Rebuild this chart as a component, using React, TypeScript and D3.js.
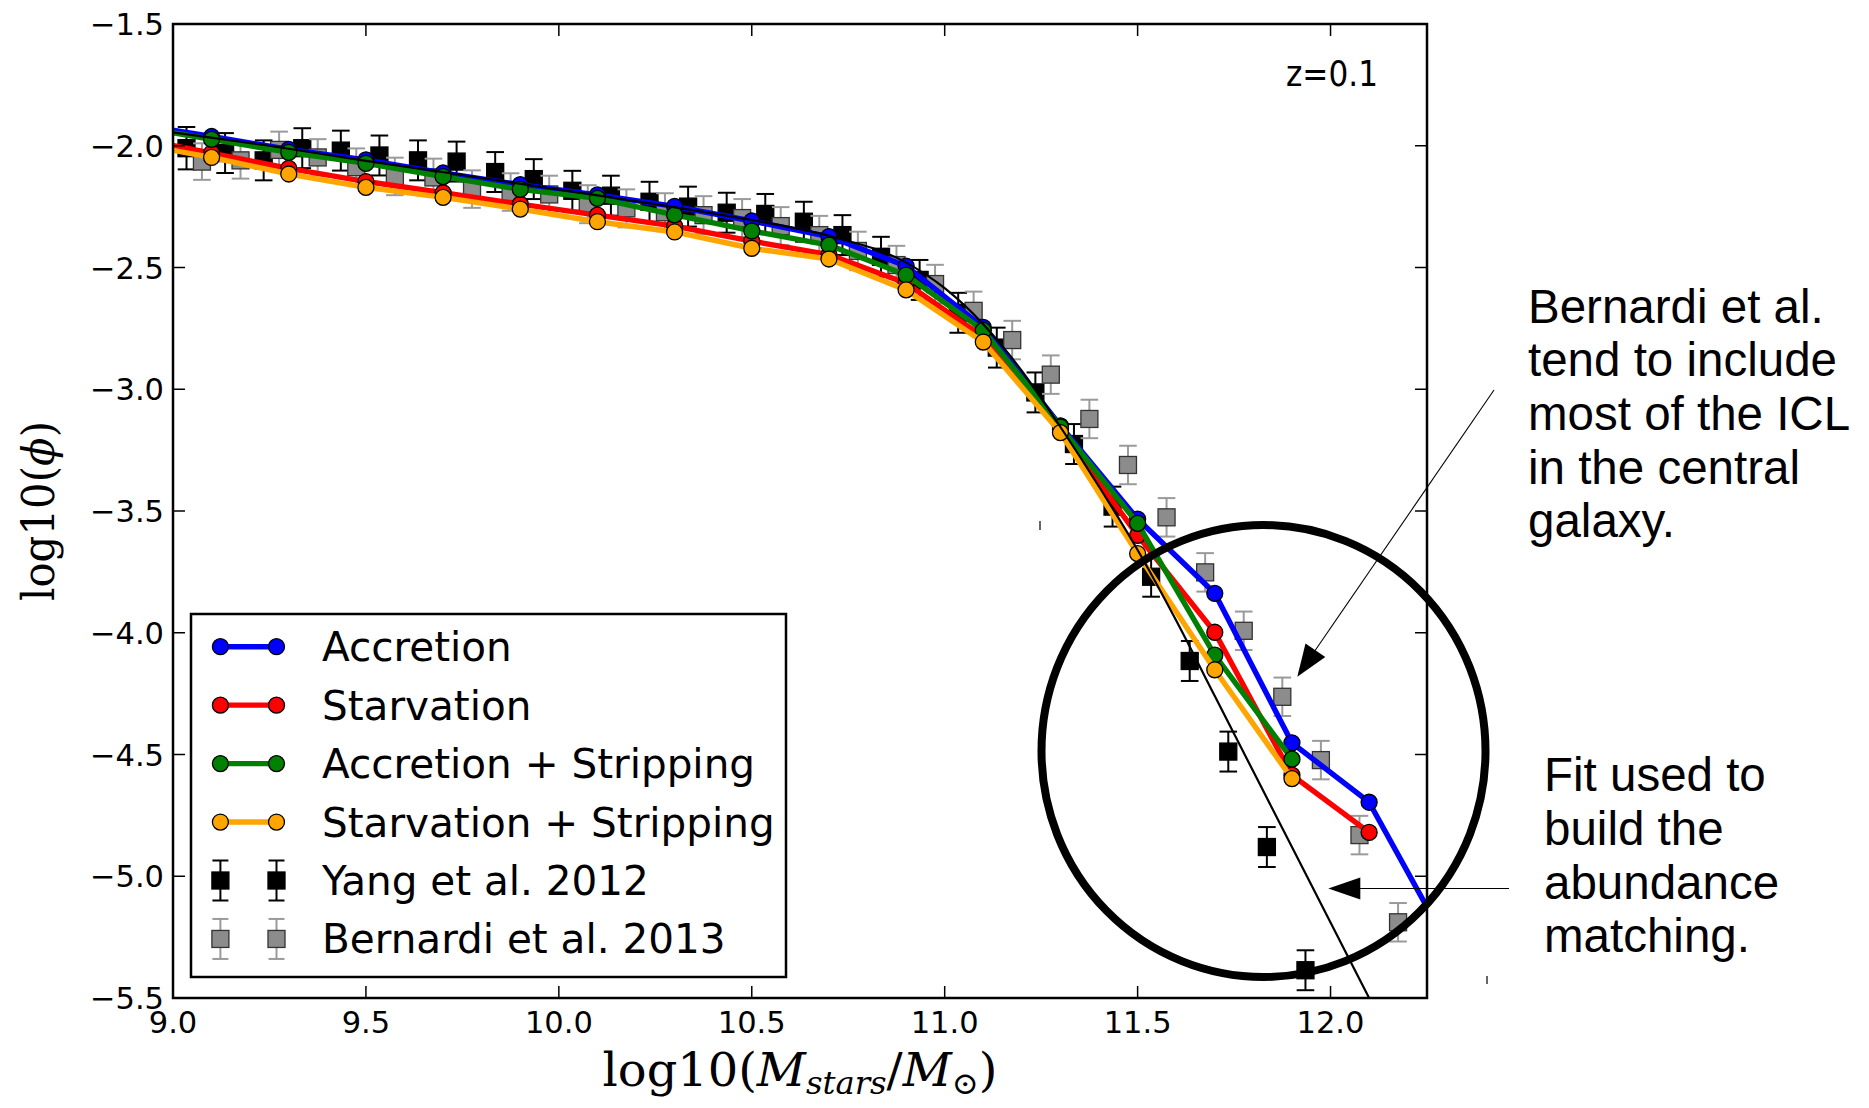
import React from "react";
import * as d3 from "d3";

// ---------- data ----------
const modelX = [8.9, 9.1, 9.3, 9.5, 9.7, 9.9, 10.1, 10.3, 10.5, 10.7, 10.9, 11.1, 11.3, 11.5, 11.7, 11.9, 12.1, 12.3];
const accretion = [-1.91, -1.962, -2.015, -2.058, -2.112, -2.16, -2.202, -2.249, -2.309, -2.373, -2.494, -2.746, -3.15, -3.533, -3.838, -4.452, -4.696, -5.27];
const starvation = [-1.967, -2.03, -2.093, -2.147, -2.193, -2.24, -2.285, -2.33, -2.392, -2.447, -2.565, -2.785, -3.165, -3.6, -3.998, -4.585, -4.82, null];
const accStrip = [-1.92, -1.974, -2.027, -2.072, -2.127, -2.179, -2.216, -2.284, -2.35, -2.408, -2.531, -2.758, -3.155, -3.551, -4.092, -4.519, null, null];
const starvStrip = [-1.99, -2.048, -2.116, -2.171, -2.212, -2.26, -2.312, -2.354, -2.421, -2.465, -2.592, -2.806, -3.178, -3.675, -4.152, -4.599, null, null];

const yangX = [9.035, 9.135, 9.235, 9.335, 9.435, 9.535, 9.635, 9.735, 9.835, 9.935, 10.035, 10.135, 10.235, 10.335, 10.435, 10.535, 10.635, 10.735, 10.835, 10.935, 11.035, 11.135, 11.235, 11.335, 11.435, 11.535, 11.635, 11.735, 11.835, 11.935];
const yangY = [-2.01, -2.03, -2.06, -2.01, -2.02, -2.04, -2.06, -2.065, -2.108, -2.137, -2.185, -2.205, -2.23, -2.25, -2.275, -2.28, -2.312, -2.367, -2.456, -2.551, -2.686, -2.829, -3.013, -3.225, -3.482, -3.77, -4.116, -4.488, -4.88, -5.386];
const yangErr = [0.087, 0.082, 0.082, 0.082, 0.082, 0.082, 0.082, 0.082, 0.082, 0.082, 0.082, 0.082, 0.082, 0.082, 0.082, 0.082, 0.082, 0.082, 0.082, 0.082, 0.082, 0.082, 0.082, 0.082, 0.082, 0.082, 0.082, 0.082, 0.082, 0.082];

const bernX = [9.075, 9.175, 9.275, 9.375, 9.475, 9.575, 9.675, 9.775, 9.875, 9.975, 10.075, 10.175, 10.275, 10.375, 10.475, 10.575, 10.675, 10.775, 10.875, 10.975, 11.075, 11.175, 11.275, 11.375, 11.475, 11.575, 11.675, 11.775, 11.875, 11.975, 12.075, 12.175];
const bernY = [-2.065, -2.06, -2.017, -2.048, -2.088, -2.126, -2.13, -2.178, -2.19, -2.2, -2.24, -2.257, -2.273, -2.285, -2.297, -2.33, -2.367, -2.432, -2.49, -2.568, -2.678, -2.798, -2.94, -3.122, -3.311, -3.526, -3.752, -3.992, -4.263, -4.523, -4.831, -5.189];
const bernErr = [0.075, 0.075, 0.075, 0.075, 0.077, 0.077, 0.077, 0.077, 0.077, 0.077, 0.078, 0.078, 0.078, 0.078, 0.078, 0.078, 0.079, 0.079, 0.079, 0.079, 0.079, 0.079, 0.079, 0.079, 0.079, 0.079, 0.079, 0.079, 0.079, 0.079, 0.079, 0.079];

const fitX = [9.0, 9.25, 9.5, 9.75, 10.0, 10.25, 10.5, 10.7, 10.9, 11.0, 11.1, 11.2, 11.3, 11.4, 11.5, 11.6, 11.7, 11.8, 11.9, 12.0, 12.1, 12.2];
const fitY = [-1.945, -2.0, -2.062, -2.12, -2.18, -2.24, -2.305, -2.37, -2.48, -2.585, -2.733, -2.925, -3.155, -3.4, -3.66, -3.95, -4.26, -4.57, -4.88, -5.19, -5.5, -5.81];

const xTicks = [9.0, 9.5, 10.0, 10.5, 11.0, 11.5, 12.0];
const yTicks = [-5.5, -5.0, -4.5, -4.0, -3.5, -3.0, -2.5, -2.0, -1.5];

const seriesNames = ["Accretion", "Starvation", "Accretion + Stripping", "Starvation + Stripping"];
const seriesColors = ["#0000ff", "#ff0000", "#008000", "#ffa500"];
const dataNames = ["Yang et al. 2012", "Bernardi et al. 2013"];

const noteICL = ["Bernardi et al.", "tend to include", "most of the ICL", "in the central", "galaxy."];
const noteFit = ["Fit used to", "build the", "abundance", "matching."];

// ---------- layout ----------
const W = 1869, H = 1108;
const X0 = 173, X1 = 1427, Y0 = 24, Y1 = 998;
const TICK_FONT = "'DejaVu Sans', sans-serif";
const SERIF = "'DejaVu Serif', serif";

export default function App() {
  const x = d3.scaleLinear().domain([9, 12.25]).range([X0, X1]);
  const y = d3.scaleLinear().domain([-5.5, -1.5]).range([Y1, Y0]);
  const fmt = (v: number) => d3.format(".1f")(v).replace("-", "\u2212");

  const modelSeries = [accretion, starvation, accStrip, starvStrip];
  const line = d3
    .line<[number, number | null]>()
    .defined((d) => d[1] !== null)
    .x((d) => x(d[0]))
    .y((d) => y(d[1] as number));
  const fitLine = d3
    .line<[number, number]>()
    .curve(d3.curveMonotoneX)
    .x((d) => x(d[0]))
    .y((d) => y(d[1]));

  const R = 8;
  const SQ = 17;
  const CAP = 8.8;
  const LW = 5.4;

  const errSquares = (
    xs: number[],
    ys: number[],
    es: number[],
    fill: string,
    edge: string,
    barColor: string,
    key: string
  ) =>
    xs.map((xv, i) => {
      const cx = x(xv);
      const cy = y(ys[i]);
      const top = y(ys[i] + es[i]);
      const bot = y(ys[i] - es[i]);
      return (
        <g key={key + i}>
          <line x1={cx} x2={cx} y1={top} y2={bot} stroke={barColor} strokeWidth={2} />
          <line x1={cx - CAP} x2={cx + CAP} y1={top} y2={top} stroke={barColor} strokeWidth={2} />
          <line x1={cx - CAP} x2={cx + CAP} y1={bot} y2={bot} stroke={barColor} strokeWidth={2} />
          <rect x={cx - SQ / 2} y={cy - SQ / 2} width={SQ} height={SQ} fill={fill} stroke={edge} strokeWidth={1.3} />
        </g>
      );
    });

  const LX0 = 191, LY0 = 614, LX1 = 786, LY1 = 977;
  const rowY = (i: number) => 646.7 + 58.45 * i;
  const mA = 220.4, mB = 276.5, textX = 322;

  const arrowHead = (tx: number, ty: number, fx: number, fy: number, len: number, hw: number) => {
    const dx = fx - tx, dy = fy - ty;
    const L = Math.hypot(dx, dy);
    const ux = dx / L, uy = dy / L;
    const bx = tx + ux * len, by = ty + uy * len;
    const px = -uy, py = ux;
    return `M${tx},${ty} L${bx + px * hw},${by + py * hw} L${bx - px * hw},${by - py * hw} Z`;
  };

  return (
    <svg
      width={W}
      height={H}
      viewBox={`0 0 ${W} ${H}`}
      style={{ position: "absolute", left: 0, top: 0, background: "#fff" }}
    >
      <defs>
        <clipPath id="plotClip">
          <rect x={X0} y={Y0} width={X1 - X0} height={Y1 - Y0} />
        </clipPath>
      </defs>
      <rect x={0} y={0} width={W} height={H} fill="#fff" />

      <g clipPath="url(#plotClip)">
        {errSquares(yangX, yangY, yangErr, "#000000", "#000000", "#000000", "y")}
        {errSquares(bernX, bernY, bernErr, "#8c8c8c", "#333333", "#9a9a9a", "b")}

        {modelSeries.map((vals, si) => {
          const pts = modelX.map((xv, i) => [xv, vals[i]] as [number, number | null]);
          return (
            <g key={"m" + si}>
              <path d={line(pts) || ""} fill="none" stroke={seriesColors[si]} strokeWidth={LW} strokeLinejoin="round" />
              {pts
                .filter((p) => p[1] !== null)
                .map((p, i) => (
                  <circle
                    key={i}
                    cx={x(p[0])}
                    cy={y(p[1] as number)}
                    r={R}
                    fill={seriesColors[si]}
                    stroke="#000"
                    strokeWidth={1.3}
                  />
                ))}
            </g>
          );
        })}

        <path
          d={fitLine(fitX.map((xv, i) => [xv, fitY[i]] as [number, number])) || ""}
          fill="none"
          stroke="#000"
          strokeWidth={2.2}
        />
      </g>

      {xTicks.map((t) => (
        <g key={"xt" + t}>
          <line x1={x(t)} x2={x(t)} y1={Y1} y2={Y1 - 12} stroke="#000" strokeWidth={1.5} />
          <line x1={x(t)} x2={x(t)} y1={Y0} y2={Y0 + 12} stroke="#000" strokeWidth={1.5} />
          <text x={x(t)} y={1033} textAnchor="middle" fontFamily={TICK_FONT} fontSize={30.5} fill="#000">
            {fmt(t)}
          </text>
        </g>
      ))}
      {yTicks.map((t) => (
        <g key={"yt" + t}>
          <line x1={X0} x2={X0 + 12} y1={y(t)} y2={y(t)} stroke="#000" strokeWidth={1.5} />
          <line x1={X1} x2={X1 - 12} y1={y(t)} y2={y(t)} stroke="#000" strokeWidth={1.5} />
          <text x={164} y={y(t) + 11} textAnchor="end" fontFamily={TICK_FONT} fontSize={30.5} fill="#000">
            {fmt(t)}
          </text>
        </g>
      ))}

      <rect x={X0} y={Y0} width={X1 - X0} height={Y1 - Y0} fill="none" stroke="#000" strokeWidth={2.5} />

      <text x={1378} y={86} textAnchor="end" fontFamily={TICK_FONT} fontSize={35} textLength={92} lengthAdjust="spacingAndGlyphs">
        z=0.1
      </text>

      <text
        x={(X0 + X1) / 2}
        y={1086}
        textAnchor="middle"
        fontFamily={SERIF}
        fontSize={46}
        textLength={395}
        lengthAdjust="spacingAndGlyphs"
      >
        log10(
        <tspan fontStyle="italic">M</tspan>
        <tspan fontStyle="italic" fontSize={31} dy={8}>stars</tspan>
        <tspan dy={-8}>/</tspan>
        <tspan fontStyle="italic">M</tspan>
        <tspan fontSize={31} dy={8}>⊙</tspan>
        <tspan dy={-8}>)</tspan>
      </text>
      <text
        transform={`translate(54,${(Y0 + Y1) / 2}) rotate(-90)`}
        textAnchor="middle"
        fontFamily={SERIF}
        fontSize={45}
        textLength={180}
        lengthAdjust="spacingAndGlyphs"
      >
        log10(<tspan fontStyle="italic">ϕ</tspan>)
      </text>

      <rect x={LX0} y={LY0} width={LX1 - LX0} height={LY1 - LY0} fill="#fff" stroke="#000" strokeWidth={2.5} />
      {seriesNames.map((name, i) => (
        <g key={"lg" + i}>
          <line x1={mA} x2={mB} y1={rowY(i)} y2={rowY(i)} stroke={seriesColors[i]} strokeWidth={LW} />
          <circle cx={mA} cy={rowY(i)} r={R} fill={seriesColors[i]} stroke="#000" strokeWidth={1.3} />
          <circle cx={mB} cy={rowY(i)} r={R} fill={seriesColors[i]} stroke="#000" strokeWidth={1.3} />
          <text x={textX} y={rowY(i) + 14.5} fontFamily={TICK_FONT} fontSize={40.5}>
            {name}
          </text>
        </g>
      ))}
      {dataNames.map((name, j) => {
        const i = j + 4;
        const cy = rowY(i);
        const fill = j === 0 ? "#000" : "#8c8c8c";
        const edge = j === 0 ? "#000" : "#333";
        const bar = j === 0 ? "#000" : "#9a9a9a";
        return (
          <g key={"ld" + j}>
            {[mA, mB].map((cx) => (
              <g key={cx}>
                <line x1={cx} x2={cx} y1={cy - 20} y2={cy + 20} stroke={bar} strokeWidth={2} />
                <line x1={cx - 8} x2={cx + 8} y1={cy - 20} y2={cy - 20} stroke={bar} strokeWidth={2} />
                <line x1={cx - 8} x2={cx + 8} y1={cy + 20} y2={cy + 20} stroke={bar} strokeWidth={2} />
                <rect x={cx - SQ / 2} y={cy - SQ / 2} width={SQ} height={SQ} fill={fill} stroke={edge} strokeWidth={1.3} />
              </g>
            ))}
            <text x={textX} y={cy + 14.5} fontFamily={TICK_FONT} fontSize={40.5}>
              {name}
            </text>
          </g>
        );
      })}

      <ellipse cx={1263.5} cy={751} rx={222} ry={226} fill="none" stroke="#000" strokeWidth={8} />

      <line x1={1494} y1={390} x2={1312} y2={655} stroke="#000" strokeWidth={1.1} />
      <path d={arrowHead(1297.3, 676.7, 1494, 390, 32, 12)} fill="#000" />
      <line x1={1509} y1={888.5} x2={1350} y2={888.5} stroke="#000" strokeWidth={1.1} />
      <path d={arrowHead(1328.3, 888.5, 1509, 888.5, 32, 11)} fill="#000" />

      <line x1={1040} x2={1040} y1={521} y2={530} stroke="#000" strokeWidth={1.2} />
      <line x1={1487} x2={1487} y1={976} y2={984} stroke="#000" strokeWidth={1.2} />

      {noteICL.map((t, i) => (
        <text key={"n1" + i} x={1528} y={322.7 + 53.6 * i} fontFamily="'Liberation Sans', Arial, sans-serif" fontSize={47.5}>
          {t}
        </text>
      ))}
      {noteFit.map((t, i) => (
        <text key={"n2" + i} x={1544} y={790.7 + 53.9 * i} fontFamily="'Liberation Sans', Arial, sans-serif" fontSize={47.5}>
          {t}
        </text>
      ))}
    </svg>
  );
}
